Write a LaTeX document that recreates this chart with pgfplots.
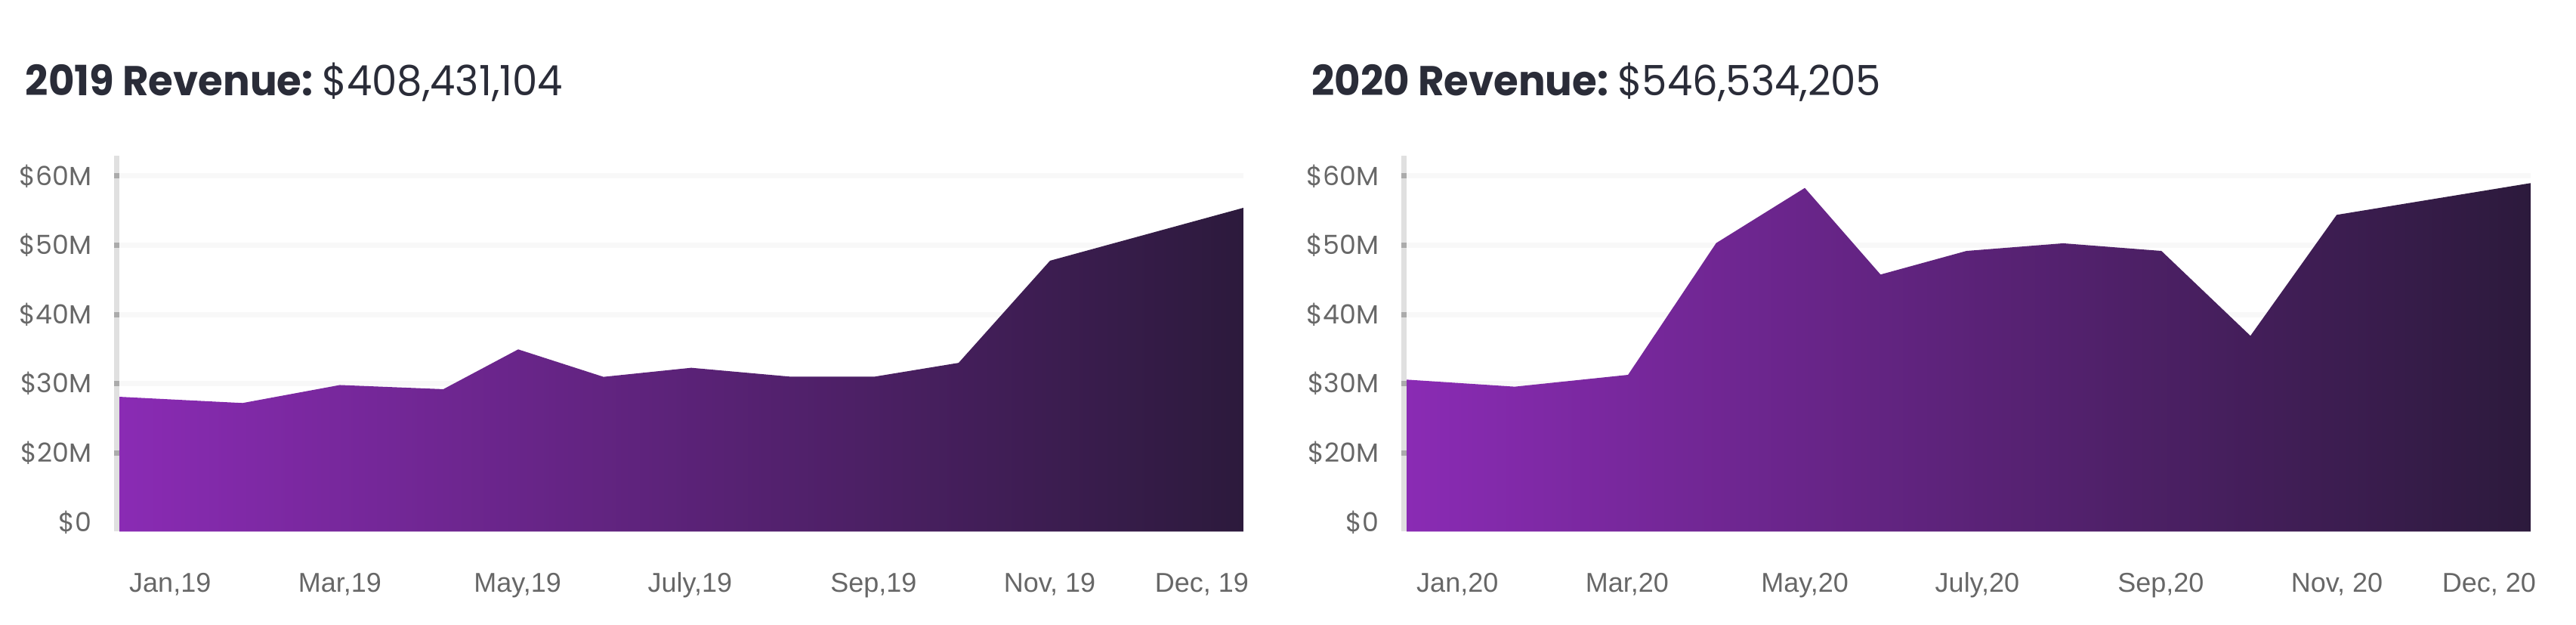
\documentclass[border=0pt]{standalone}
\usepackage{fontspec}
\usepackage{pgfplots}
\pgfplotsset{compat=1.18}
\setmainfont{Poppins}
\newfontfamily\xlabfont{Liberation Sans}
\definecolor{titlec}{HTML}{2A2C38}
\definecolor{labc}{HTML}{676767}
\definecolor{gridc}{HTML}{F8F8F8}
\definecolor{axc}{HTML}{E0E0E0}
\definecolor{tickc}{HTML}{ABABAB}
\definecolor{purA}{HTML}{8A2BB4}
\definecolor{purB}{HTML}{2C1A3C}

\pgfplotstableread{
day   rev
0     28.1
40.0  27.2
71.6  29.8
105.2 29.2
129.5 34.95
157.2 30.98
185.7 32.29
218.1 31.0
245.1 31.0
272.5 33.0
302.2 47.76
365   55.4
}\revA

\pgfplotstableread{
day   rev
0     30.58
35.1  29.56
71.9  31.27
100.5 50.3
129.3 58.27
153.9 45.76
181.8 49.17
213.2 50.27
245.1 49.17
274.0 36.91
302.0 54.38
365   58.97
}\revB

\pgfplotsset{revstyle/.style={
  scale only axis, width=372pt, height=124.325pt, anchor=south west,
  xmin=0, xmax=365, ymin=8.64, ymax=62.93,
  axis line style={draw=none},
  major tick length=0pt,
  ytick={20,30,40,50,60},
  yticklabels={\$20M,\$30M,\$40M,\$50M,\$60M},
  extra y ticks={10}, extra y tick labels={\$0}, extra y tick style={grid=none},
  ymajorgrids, grid style={line width=1.75pt, gridc},
  yticklabel style={font=\fontsize{8.7pt}{10pt}\selectfont, text=labc, anchor=east, inner sep=0pt, xshift=-9pt},
  xtick={16.5,71.6,129.3,185.3,244.9,302.1,351.5},
  xticklabel style={font=\xlabfont\fontsize{9pt}{11pt}\selectfont, text=labc, anchor=base, inner sep=0pt, yshift=-20pt},
  extra description/.code={
    \fill[axc] ([xshift=-1.75pt]rel axis cs:0,0) rectangle (rel axis cs:0,1);
    \foreach \t in {20,30,40,50,60} {
      \fill[tickc] ([xshift=-1.75pt,yshift=-0.875pt]axis cs:0,\t) rectangle ([yshift=0.875pt]axis cs:0,\t);
    }
  },
}}

\begin{document}
\begin{tikzpicture}
\useasboundingbox (0,0) rectangle (852.5pt,206.5pt);

\node[anchor=base west, inner sep=0pt, text=titlec, xscale=0.96, font=\fontsize{13.8pt}{17pt}\selectfont] at (8.25pt,174.75pt) {\textbf{2019 Revenue:}\hspace{0.22em}\$408,431,104};
\node[anchor=base west, inner sep=0pt, text=titlec, xscale=0.96, font=\fontsize{13.8pt}{17pt}\selectfont] at (433.9pt,174.75pt) {\textbf{2020 Revenue:}\hspace{0.22em}\$546,534,205};

\begin{axis}[revstyle, at={(39.5pt,30.675pt)},
  xticklabels={{Jan,19},{Mar,19},{May,19},{July,19},{Sep,19},{Nov, 19},{Dec, 19}}]
\addplot[draw=none, left color=purA, right color=purB] table[x=day,y=rev] {\revA} \closedcycle;
\end{axis}

\begin{axis}[revstyle, at={(465.5pt,30.675pt)},
  xticklabels={{Jan,20},{Mar,20},{May,20},{July,20},{Sep,20},{Nov, 20},{Dec, 20}}]
\addplot[draw=none, left color=purA, right color=purB] table[x=day,y=rev] {\revB} \closedcycle;
\end{axis}
\end{tikzpicture}
\end{document}
